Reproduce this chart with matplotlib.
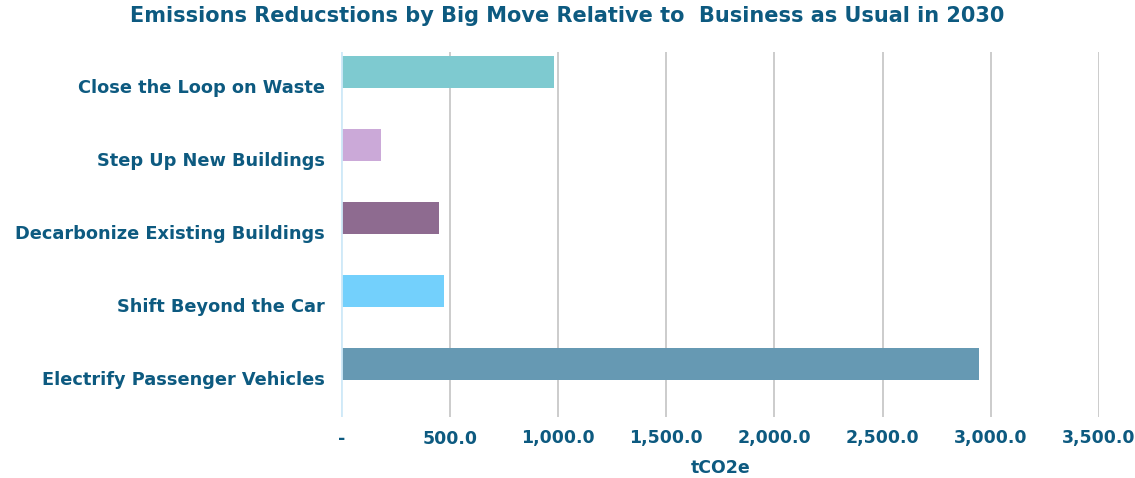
import matplotlib
matplotlib.use("Agg")
import matplotlib.pyplot as plt
from matplotlib.ticker import FuncFormatter
from matplotlib.transforms import ScaledTranslation

categories = ["Electrify Passenger Vehicles", "Shift Beyond the Car",
              "Decarbonize Existing Buildings", "Step Up New Buildings",
              "Close the Loop on Waste"]
values = [2945, 474, 449, 181, 980]
colors = ["#6699b3", "#73d0fc", "#8e6b90", "#cba9d8", "#7ecad0"]
xticks = [0, 500, 1000, 1500, 2000, 2500, 3000, 3500]

TEXT = "#0d5a80"
FONT = "DejaVu Sans"

fig = plt.figure(figsize=(11.35, 4.78), dpi=100)
ax = fig.add_axes([341.5/1135, 1-417/478, (1099-341.5)/1135, (417-52)/478])

ypos = list(range(len(categories)))
ax.barh(ypos, values, height=0.44, color=colors, zorder=3)

ax.set_xlim(0, 3500)
ax.set_ylim(-0.72, 4.27)
ax.set_xticks(xticks)
ax.xaxis.set_major_formatter(FuncFormatter(lambda v, p: "-" if v == 0 else f"{v:,.1f}"))
ax.set_yticks(ypos)
ax.set_yticklabels(categories)
ax.grid(axis="x", color="#cccccc", linewidth=1.4, zorder=0)
ax.axvline(0, color="#cfe9f8", linewidth=2, zorder=4)
for s in ax.spines.values():
    s.set_visible(False)
ax.tick_params(axis="both", length=0)
ax.tick_params(axis="x", pad=9)
ax.tick_params(axis="y", pad=12)
off = ScaledTranslation(0, -0.14, fig.dpi_scale_trans)
for lab in ax.get_yticklabels():
    lab.set_transform(lab.get_transform() + off)
for lab in ax.get_xticklabels() + ax.get_yticklabels():
    lab.set_fontfamily(FONT)
    lab.set_fontweight("bold")
    lab.set_color(TEXT)
    lab.set_fontsize(12.5)
for lab in ax.get_yticklabels():
    lab.set_fontsize(12.8)
ax.set_xlabel("tCO2e", fontfamily=FONT, fontweight="bold", color=TEXT, fontsize=12.5, labelpad=8)
fig.text(0.5, 1-16/478, "Emissions Reducstions by Big Move Relative to  Business as Usual in 2030",
         ha="center", va="center", fontfamily=FONT, fontweight="bold", color=TEXT, fontsize=15)

fig.savefig("out.png", dpi=100)
